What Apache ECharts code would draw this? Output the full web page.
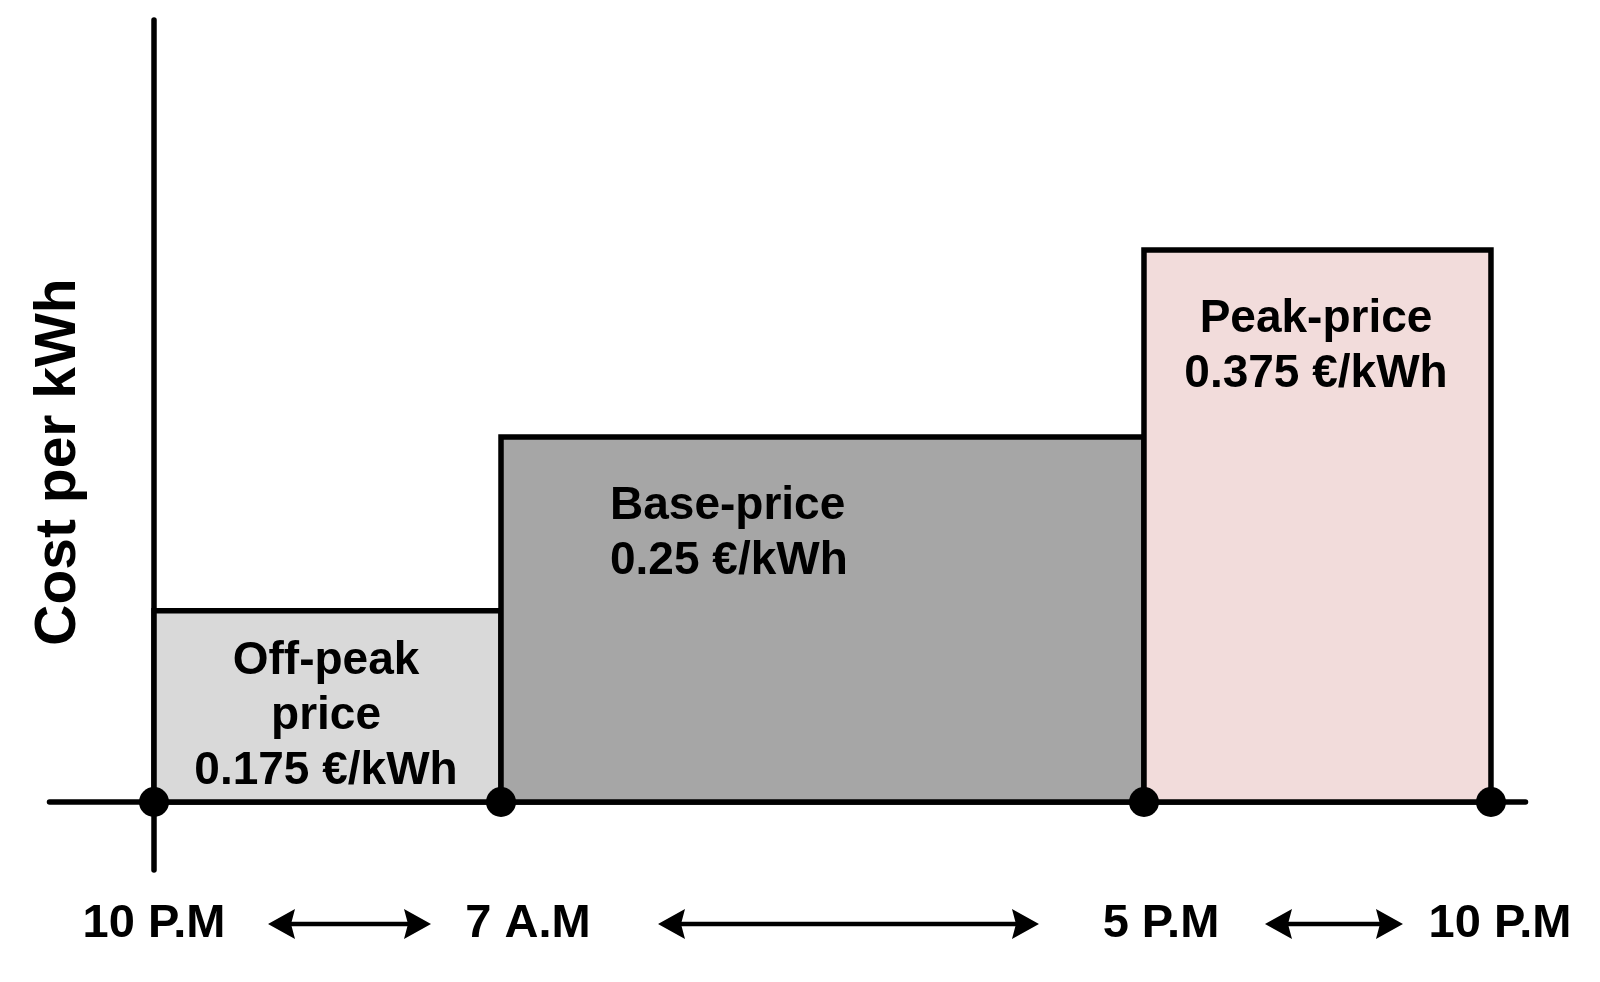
<!DOCTYPE html>
<html><head><meta charset="utf-8">
<script src="https://cdn.jsdelivr.net/npm/echarts@6/dist/echarts.min.js"></script>
<style>html,body{margin:0;padding:0;background:#fff}#c{width:1600px;height:982px}</style>
</head><body><div id="c"></div>
<script>
// ---- data (the original is schematic, not to scale) ----
const segmentNames = ['Off-peak price', 'Base-price', 'Peak-price'];
const segmentEdges = [0, 1, 2.853, 3.853];      // schematic x positions of the time boundaries
const barHeights = [0.131, 0.25, 0.378];        // drawn bar heights
const barTextLines = [
  ['Off-peak', 'price', '0.175 €/kWh'],
  ['Base-price', '0.25 €/kWh'],
  ['Peak-price', '0.375 €/kWh']
];
const timeLabels = ['10 P.M', '7 A.M', '5 P.M', '10 P.M'];
const yAxisTitle = 'Cost per kWh';

// ---- styles / layout ----
const barColors = ['#d9d9d9', '#a6a6a6', '#f2dcdb'];
const FONT = 'bold 46px "Liberation Sans", Arial, sans-serif';
const FONT_T = 'bold 47px "Liberation Sans", Arial, sans-serif';
const barLabelLayout = [
  { align: 'center', from: 'center', dx: -1.5, dy: 51 },
  { align: 'left', from: 'left', dx: 109, dy: 69.5 },
  { align: 'center', from: 'center', dx: -1.5, dy: 69.5 }
];
const lineGap = 55;
const timeLabelDx = [0, 27, 17, 9];
const timeLabelDy = 122;
const arrowInsets = [[114, 70], [157, 105], [121, 88]];
const arrowDy = 122;

const segData = segmentNames.map((n, i) => [segmentEdges[i], segmentEdges[i + 1], barHeights[i], i]);
const dotData = segmentEdges.map(x => [x, 0]);
const timeData = timeLabels.map((t, i) => [segmentEdges[i], 0, i]);

function arrowHead(tipX, y, dir) {
  const L = 27, H = 15, N = 23;
  return {
    type: 'polygon',
    shape: { points: [[tipX, y], [tipX + dir * L, y - H], [tipX + dir * N, y], [tipX + dir * L, y + H]] },
    style: { fill: '#000' }
  };
}

const chart = echarts.init(document.getElementById('c'), null, { renderer: 'canvas' });
chart.setOption({
  backgroundColor: '#fff',
  animation: false,
  grid: { left: 49.5, right: 74.5, top: 20, bottom: 112, containLabel: false },
  xAxis: {
    type: 'value', min: -0.3012, max: 3.9525,
    axisLine: { show: true, onZero: true, lineStyle: { color: '#000', width: 5.5, cap: 'round' } },
    axisTick: { show: false }, axisLabel: { show: false }, splitLine: { show: false }
  },
  yAxis: {
    type: 'value', min: -0.04658, max: 0.5356,
    axisLine: { show: true, onZero: true, lineStyle: { color: '#000', width: 5.5, cap: 'round' } },
    axisTick: { show: false }, axisLabel: { show: false }, splitLine: { show: false }
  },
  graphic: [{
    type: 'text', x: 59, y: 462, rotation: Math.PI / 2,
    style: { text: yAxisTitle, font: 'bold 57px "Liberation Sans", Arial, sans-serif', fill: '#000', align: 'center', verticalAlign: 'middle' }
  }],
  series: [
    {
      type: 'custom', z: 3, data: segData,
      renderItem(params, api) {
        const i = api.value(3);
        const p0 = api.coord([api.value(0), api.value(2)]);
        const p1 = api.coord([api.value(1), 0]);
        const children = [{
          type: 'rect',
          shape: { x: p0[0], y: p0[1], width: p1[0] - p0[0], height: p1[1] - p0[1] },
          style: { fill: barColors[i], stroke: '#000', lineWidth: 5.5, lineJoin: 'miter' }
        }];
        const lay = barLabelLayout[i];
        const bx = lay.from === 'center' ? (p0[0] + p1[0]) / 2 + lay.dx : p0[0] + lay.dx;
        barTextLines[i].forEach((t, k) => {
          children.push({
            type: 'text', x: bx, y: p0[1] + lay.dy + k * lineGap, z2: 10,
            style: { text: t, font: FONT, fill: '#000', align: lay.align, verticalAlign: 'middle' }
          });
        });
        return { type: 'group', children };
      }
    },
    {
      type: 'custom', z: 3, data: timeData, clip: false,
      renderItem(params, api) {
        const i = api.value(2);
        const p = api.coord([api.value(0), 0]);
        const children = [{
          type: 'text', x: p[0] + timeLabelDx[i], y: p[1] + timeLabelDy,
          style: { text: timeLabels[i], font: FONT_T, fill: '#000', align: 'center', verticalAlign: 'middle' }
        }];
        if (i < segmentEdges.length - 1) {
          const q = api.coord([segmentEdges[i + 1], 0]);
          const x0 = p[0] + arrowInsets[i][0], x1 = q[0] - arrowInsets[i][1];
          const y = p[1] + arrowDy;
          children.push({ type: 'line', shape: { x1: x0 + 18, y1: y, x2: x1 - 18, y2: y }, style: { stroke: '#000', lineWidth: 4.5 } });
          children.push(arrowHead(x0, y, 1));
          children.push(arrowHead(x1, y, -1));
        }
        return { type: 'group', children };
      }
    },
    {
      type: 'scatter', z: 5, data: dotData, symbol: 'circle', symbolSize: 30,
      itemStyle: { color: '#000', opacity: 1 }, silent: true
    }
  ]
});
</script>
</body></html>
